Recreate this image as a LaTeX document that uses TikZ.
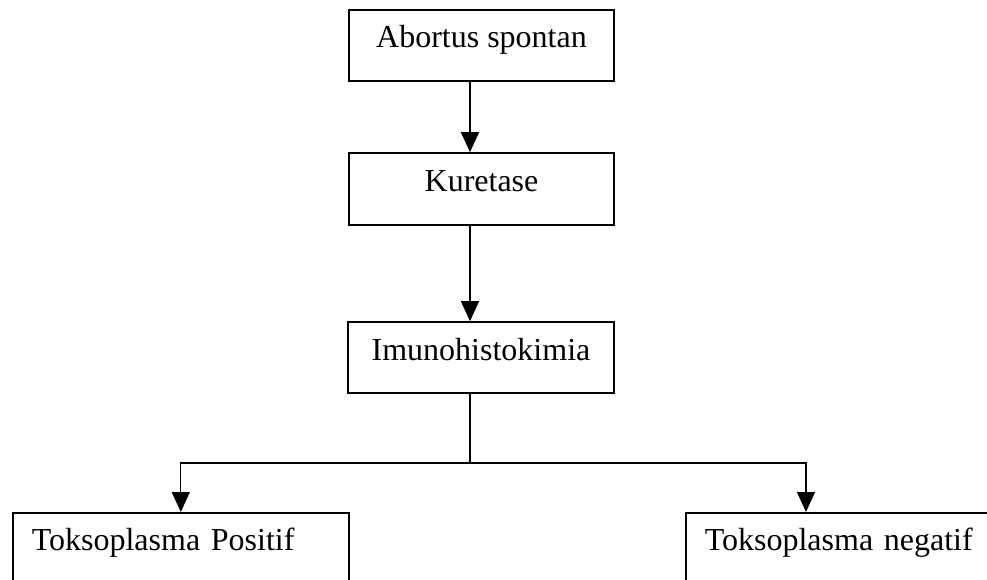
\documentclass[tikz,border=0pt]{standalone}
\usepackage{fontspec}
\setmainfont{Liberation Serif}
\usetikzlibrary{arrows.meta}
\begin{document}
\begin{tikzpicture}[x=1pt,y=-1pt,
  box/.style={draw=black, line width=1.6pt, inner sep=0pt, minimum width=265pt,
    text height=38pt, text depth=33pt, font=\fontsize{32}{38}\selectfont},
  lowbox/.style={draw=black, line width=1.6pt, anchor=north west, inner ysep=0pt,
    inner xsep=19pt, align=left, text height=38pt, text depth=72pt,
    font=\fontsize{32}{38}\selectfont},
  conn/.style={line width=1.3pt},
  arr/.style={conn, -{Triangle[length=20pt,width=18pt]}}]
\useasboundingbox (0,0) rectangle (987,580);
\clip (0,0) rectangle (987,580);
\node[box] (a) at (481.5,45.5) {Abortus spontan};
\node[box, text height=39pt] (k) at (481.5,189) {Kuretase};
\node[box, minimum width=266pt] (i) at (481,357.5) {Imunohistokimia};
\node[lowbox, minimum width=336pt, text width=298pt] (p) at (12,512) {Toksoplasma Positif};
\node[lowbox, minimum width=330pt, text width=292pt] (n) at (685,512) {Toksoplasma negatif};
\coordinate (cx) at (470,0);
\coordinate (j) at (470,463);
\coordinate (rx) at (806,0);
\draw[arr] (cx |- a.south) -- (cx |- k.north);
\draw[arr] (cx |- k.south) -- (cx |- i.north);
\draw[conn] (cx |- i.south) -- (j);
\draw[arr] (j) -| (p.north);
\draw[arr] (j) -| (rx |- n.north);
\end{tikzpicture}
\end{document}
